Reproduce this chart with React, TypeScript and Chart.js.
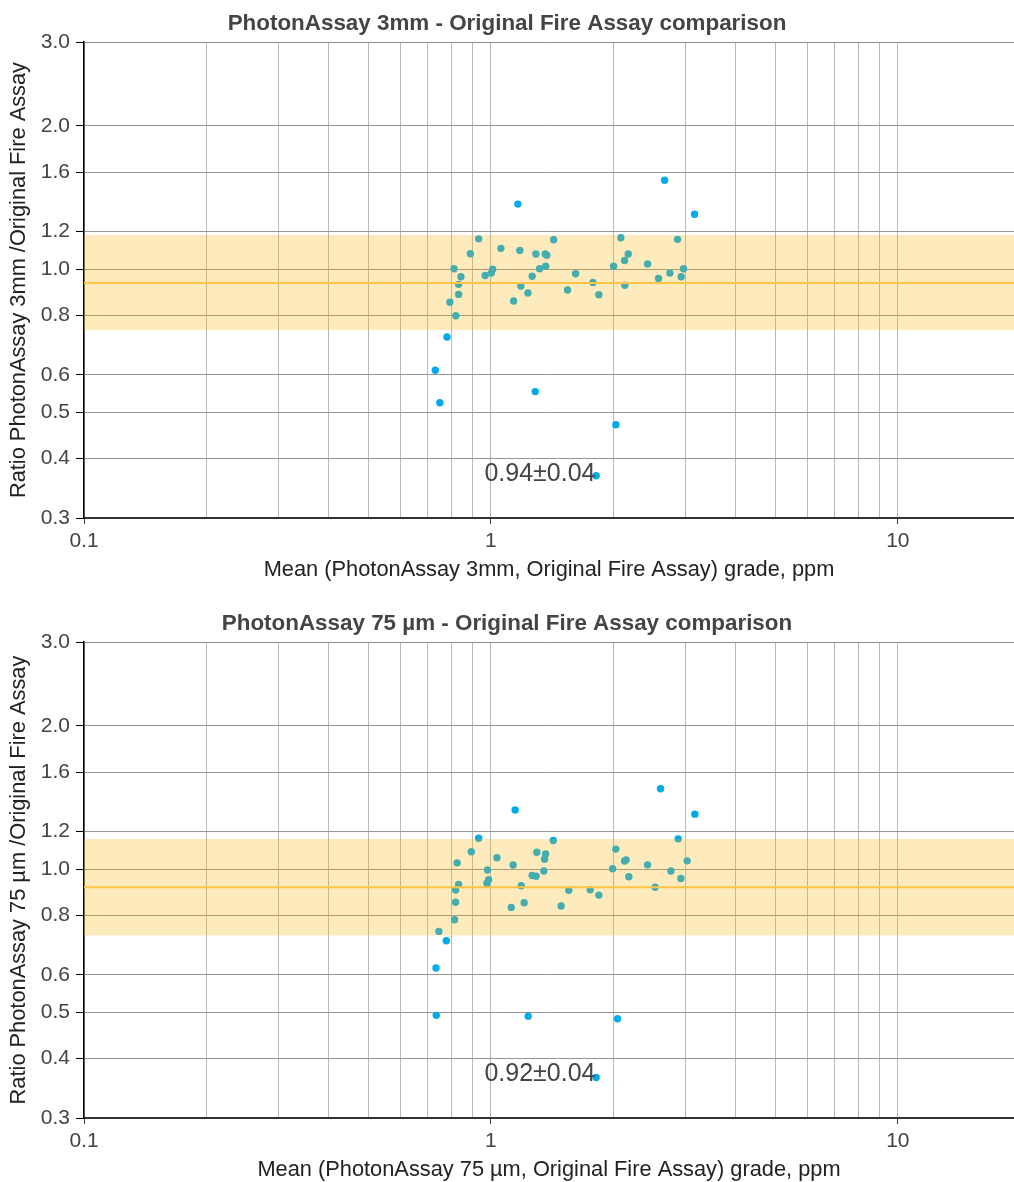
import React, { useEffect, useRef } from "react";
import { Chart, registerables } from "chart.js";

Chart.register(...registerables);

// ---------- axes ----------
const X_MIN = 0.1;
const X_MAX = 19.3;
const Y_MIN = 0.3;
const Y_MAX = 3.0;
const X_GRID_TICKS = [0.1, 0.2, 0.3, 0.4, 0.5, 0.6, 0.7, 0.8, 0.9, 1, 2, 3, 4, 5, 6, 7, 8, 9, 10];
const X_LABELLED = [0.1, 1, 10];
const Y_TICKS = [0.3, 0.4, 0.5, 0.6, 0.8, 1.0, 1.2, 1.6, 2.0, 3.0];

// ---------- top panel: PhotonAssay 3mm ----------
const TOP_TITLE = "PhotonAssay 3mm - Original Fire Assay comparison";
const TOP_X_TITLE = "Mean (PhotonAssay 3mm, Original Fire Assay) grade, ppm";
const TOP_Y_TITLE = "Ratio PhotonAssay 3mm /Original Fire Assay";
const TOP_X = [
  2.672, 1.165, 3.166, 0.933, 2.086, 2.875, 1.426, 1.058, 1.178, 0.890,
  1.290, 1.360, 1.373, 2.175, 2.131, 2.427, 1.363, 2.002, 0.812, 1.010,
  1.317, 2.975, 1.002, 1.615, 2.754, 0.968, 1.263, 0.844, 2.935, 2.582,
  1.781, 0.833, 1.185, 2.134, 1.543, 1.233, 0.833, 1.842, 1.137, 0.793,
  0.820, 0.780, 0.730, 0.749, 1.285, 2.028, 1.814,
];
const TOP_Y = [
  1.537, 1.370, 1.304, 1.158, 1.164, 1.155, 1.153, 1.106, 1.095, 1.077,
  1.076, 1.076, 1.069, 1.076, 1.043, 1.025, 1.014, 1.014, 1.002, 1.000,
  1.002, 1.002, 0.981, 0.978, 0.981, 0.970, 0.966, 0.964, 0.964, 0.956,
  0.938, 0.929, 0.922, 0.925, 0.904, 0.891, 0.885, 0.884, 0.857, 0.852,
  0.798, 0.720, 0.613, 0.524, 0.553, 0.471, 0.368,
];
const TOP_MEAN = 0.935;
const TOP_BAND_LOW = 0.745;
const TOP_BAND_HIGH = 1.179;
const TOP_LABEL = "0.94±0.04";

// ---------- bottom panel: PhotonAssay 75 µm ----------
const BOTTOM_TITLE = "PhotonAssay 75 µm - Original Fire Assay comparison";
const BOTTOM_X_TITLE = "Mean (PhotonAssay 75 µm, Original Fire Assay) grade, ppm";
const BOTTOM_Y_TITLE = "Ratio PhotonAssay 75 µm /Original Fire Assay";
const BOTTOM_X = [
  2.612, 1.147, 3.171, 0.933, 2.885, 1.423, 2.028, 0.895, 1.297, 1.363,
  1.035, 1.355, 2.150, 2.131, 3.036, 0.826, 2.427, 1.134, 0.981, 1.991,
  1.349, 2.769, 1.263, 1.292, 2.183, 2.930, 0.987, 0.978, 0.833, 1.187,
  2.533, 0.819, 1.554, 1.754, 1.842, 0.819, 1.207, 1.488, 1.122, 0.814,
  0.745, 0.777, 0.733, 0.734, 1.235, 2.048, 1.814,
];
const BOTTOM_Y = [
  1.475, 1.331, 1.305, 1.161, 1.158, 1.149, 1.102, 1.088, 1.085, 1.076,
  1.057, 1.049, 1.046, 1.040, 1.041, 1.031, 1.021, 1.020, 0.996, 1.002,
  0.991, 0.991, 0.970, 0.966, 0.964, 0.956, 0.950, 0.934, 0.929, 0.923,
  0.916, 0.904, 0.903, 0.905, 0.882, 0.852, 0.850, 0.837, 0.831, 0.783,
  0.740, 0.707, 0.620, 0.493, 0.491, 0.485, 0.365,
];
const BOTTOM_MEAN = 0.916;
const BOTTOM_BAND_LOW = 0.725;
const BOTTOM_BAND_HIGH = 1.157;
const BOTTOM_LABEL = "0.92±0.04";

// annotation anchor (data coordinates)
const LABEL_X = 1.32;
const LABEL_Y = 0.371;

// ---------- styles ----------
const FONT = '"Liberation Sans", Arial, Helvetica, sans-serif';
const TEXT = "#444444";
const POINT_COLOR = "#03aaeb";
const BAND_COLOR = "rgba(250, 180, 10, 0.27)"; // translucent film laid over points and grid
const MEAN_COLOR = "#ffc446";

type Props = {
  width: number;
  height: number;
  title: string;
  xTitle: string;
  yTitle: string;
  xs: number[];
  ys: number[];
  mean: number;
  bandLow: number;
  bandHigh: number;
  label: string;
  xTitlePad: number;
};

function RatioChart(p: Props) {
  const ref = useRef<HTMLCanvasElement>(null);
  useEffect(() => {
    const points = p.xs.map((x, i) => ({ x, y: p.ys[i] }));
    const annot = {
      id: "annot",
      afterDatasetsDraw(chart: any) {
        const { ctx, scales } = chart;
        ctx.save();
        ctx.font = `25px ${FONT}`;
        ctx.fillStyle = TEXT;
        ctx.textAlign = "center";
        ctx.textBaseline = "middle";
        ctx.fillText(p.label, scales.x.getPixelForValue(LABEL_X), scales.y.getPixelForValue(LABEL_Y));
        ctx.restore();
      },
    };
    const chart = new Chart(ref.current as HTMLCanvasElement, {
      type: "scatter",
      data: {
        datasets: [
          {
            type: "line",
            label: "band",
            data: [
              { x: X_MIN, y: p.bandHigh },
              { x: X_MAX, y: p.bandHigh },
            ],
            fill: 1,
            backgroundColor: BAND_COLOR,
            borderColor: "rgba(0,0,0,0)",
            borderWidth: 0,
            pointRadius: 0,
            order: 1,
          } as any,
          {
            type: "line",
            label: "bandLow",
            data: [
              { x: X_MIN, y: p.bandLow },
              { x: X_MAX, y: p.bandLow },
            ],
            fill: false,
            borderColor: "rgba(0,0,0,0)",
            borderWidth: 0,
            pointRadius: 0,
            order: 3,
          } as any,
          {
            type: "line",
            label: "mean",
            data: [
              { x: X_MIN, y: p.mean },
              { x: X_MAX, y: p.mean },
            ],
            fill: false,
            borderColor: MEAN_COLOR,
            borderWidth: 2,
            pointRadius: 0,
            order: 0,
          } as any,
          {
            type: "scatter",
            label: "ratio",
            data: points,
            backgroundColor: POINT_COLOR,
            borderWidth: 0,
            pointRadius: 3.7,
            order: 5,
          } as any,
        ],
      },
      options: {
        responsive: false,
        animation: false,
        devicePixelRatio: 1,
        layout: { padding: 0, autoPadding: false },
        plugins: {
          legend: { display: false },
          tooltip: { enabled: false },
          title: {
            display: true,
            text: p.title,
            color: TEXT,
            font: { size: 22.4, weight: "bold", family: FONT, lineHeight: 1.2 },
            padding: { top: 10.5, bottom: 4.7 },
          },
        },
        scales: {
          x: {
            type: "logarithmic",
            position: "bottom",
            min: X_MIN,
            max: X_MAX,
            afterBuildTicks: (s: any) => {
              s.ticks = X_GRID_TICKS.map((v) => ({ value: v }));
            },
            afterFit: (s: any) => {
              s.height = p.height - 518;
              s.paddingLeft = 0;
              s.paddingRight = 0;
            },
            ticks: {
              autoSkip: false,
              maxRotation: 0,
              minRotation: 0,
              padding: 5,
              color: TEXT,
              font: { size: 21, family: FONT },
              callback: (v: any) => (X_LABELLED.includes(Number(v)) ? String(v) : ""),
            },
            grid: {
              color: "#b9b9b9",
              lineWidth: 1,
              tickLength: 6,
              tickColor: (ctx: any) =>
                ctx.tick && X_LABELLED.includes(ctx.tick.value) ? "#333" : "rgba(0,0,0,0)",
            },
            border: { color: "#333", width: 2 },
            title: {
              display: true,
              text: p.xTitle,
              color: "#222",
              font: { size: 21.8, family: FONT, lineHeight: 1 },
              padding: { top: 0, bottom: p.xTitlePad },
            },
          },
          y: {
            type: "logarithmic",
            min: Y_MIN,
            max: Y_MAX,
            afterBuildTicks: (s: any) => {
              s.ticks = Y_TICKS.map((v) => ({ value: v }));
            },
            afterFit: (s: any) => {
              s.width = 84;
            },
            ticks: {
              padding: 6,
              color: TEXT,
              font: { size: 21, family: FONT },
              callback: (v: any) => Number(v).toFixed(1),
            },
            grid: { color: "#959595", lineWidth: 1, tickLength: 8, tickColor: "#000" },
            border: { color: "#000", width: 1.5 },
            title: {
              display: true,
              text: p.yTitle,
              color: "#222",
              font: { size: 21.8, family: FONT, lineHeight: 1 },
              padding: { top: 8.5, bottom: 0 },
            },
          },
        },
      } as any,
      plugins: [annot],
    });
    return () => chart.destroy();
  }, []);
  return (
    <canvas
      ref={ref}
      width={p.width}
      height={p.height}
      style={{ display: "block", width: p.width, height: p.height }}
    />
  );
}

export default function App() {
  return (
    <div style={{ position: "absolute", left: 0, top: 0, width: 1014, height: 1182, background: "#fff" }}>
      <RatioChart
        width={1014}
        height={600}
        title={TOP_TITLE}
        xTitle={TOP_X_TITLE}
        yTitle={TOP_Y_TITLE}
        xs={TOP_X}
        ys={TOP_Y}
        mean={TOP_MEAN}
        bandLow={TOP_BAND_LOW}
        bandHigh={TOP_BAND_HIGH}
        label={TOP_LABEL}
        xTitlePad={19}
      />
      <RatioChart
        width={1014}
        height={582}
        title={BOTTOM_TITLE}
        xTitle={BOTTOM_X_TITLE}
        yTitle={BOTTOM_Y_TITLE}
        xs={BOTTOM_X}
        ys={BOTTOM_Y}
        mean={BOTTOM_MEAN}
        bandLow={BOTTOM_BAND_LOW}
        bandHigh={BOTTOM_BAND_HIGH}
        label={BOTTOM_LABEL}
        xTitlePad={1}
      />
    </div>
  );
}
